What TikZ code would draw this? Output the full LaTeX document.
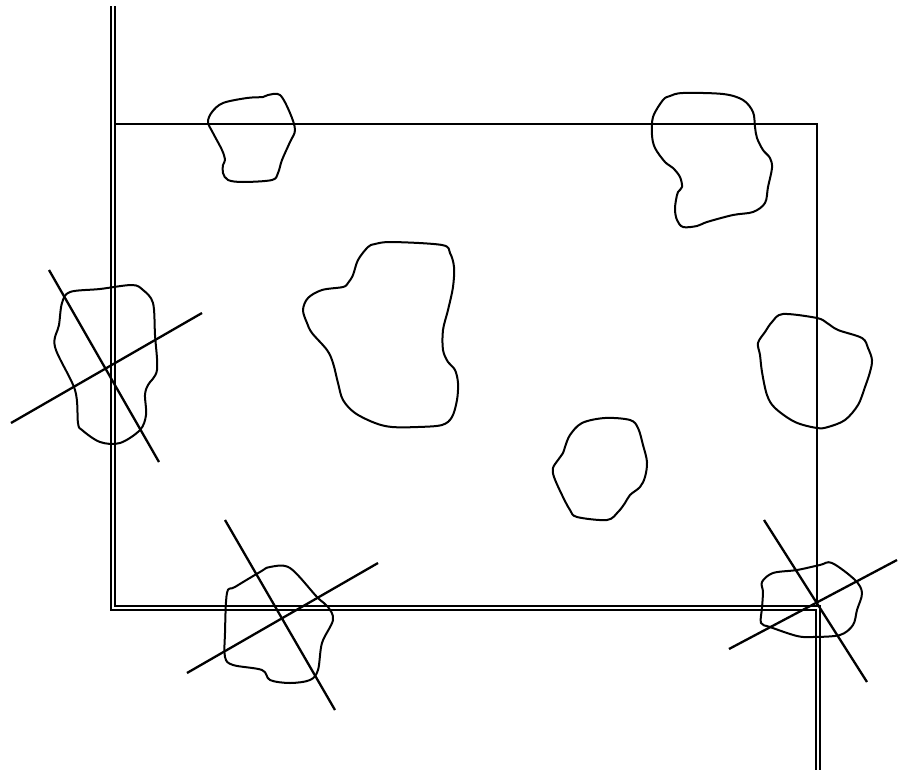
\documentclass[tikz,border=0pt]{standalone}
\begin{document}
\begin{tikzpicture}[x=1pt,y=-1pt,
  blob/.style={draw=black,line width=2pt,line join=round},
  crossline/.style={draw=black,line width=2.3pt},
  wall/.style={draw=black,line width=1.7pt,double=white,double distance=2.2pt},
  edge/.style={draw=black,line width=2.3pt}]
\useasboundingbox (0,0) rectangle (898,771);
% outer frame
\draw[wall] (113,6) -- (113,608) -- (818,608) -- (818,770);
\draw[edge] (114,124) -- (817,124) -- (817,606);
% blob top-left
\draw[blob] plot[smooth cycle,tension=0.55] coordinates {(268,95) (280,95) (290,113) (295,130) (290,142) (282,160) (278,173) (272,180) (243,182) (228,180) (223,173) (223,165) (225,160) (222,150) (213,133) (208,122) (212,112) (223,103) (247,98) (263,97)};
% blob top-right
\draw[blob] plot[smooth cycle,tension=0.55] coordinates {(683,93) (723,94) (743,100) (753,112) (755,127) (757,138) (763,150) (770,158) (772,168) (768,187) (765,203) (753,212) (733,215) (707,222) (697,226) (683,227) (677,220) (675,210) (676,200) (678,192) (682,187) (680,177) (673,168) (665,162) (655,148) (652,135) (653,117) (663,100) (670,96)};
% blob centre
\draw[blob] plot[smooth cycle,tension=0.55] coordinates {(392,242) (442,245) (450,253) (454,267) (453,287) (448,310) (443,330) (443,350) (448,362) (455,370) (458,383) (457,400) (452,417) (442,425) (418,427) (392,427) (375,423) (355,413) (343,400) (338,383) (333,363) (327,350) (312,333) (307,323) (303,310) (308,298) (322,290) (343,287) (348,283) (353,275) (358,260) (368,247) (375,244)};
% blob right
\draw[blob] plot[smooth cycle,tension=0.55] coordinates {(783,314) (817,318) (827,323) (838,330) (862,338) (868,348) (872,360) (870,372) (865,387) (858,405) (845,420) (828,427) (817,428) (795,422) (775,408) (767,395) (762,372) (760,355) (758,343) (765,332) (772,322)};
% blob small
\draw[blob] plot[smooth cycle,tension=0.55] coordinates {(605,418) (630,420) (638,428) (643,445) (647,462) (645,477) (640,487) (630,495) (625,503) (618,512) (607,520) (577,517) (570,510) (562,495) (554,477) (553,468) (558,460) (563,453) (565,447) (570,435) (582,423)};
% blob left (crossed)
\draw[blob] plot[smooth cycle,tension=0.55] coordinates {(132,285) (143,290) (153,303) (155,335) (157,370) (148,385) (145,395) (146,415) (140,430) (120,443) (100,442) (82,430) (78,423) (75,390) (55,347) (59,325) (62,303) (70,292) (100,289)};
\draw[crossline] (49,270) -- (159,462);
\draw[crossline] (11,423) -- (202,313);
% blob bottom (crossed)
\draw[blob] plot[smooth cycle,tension=0.55] coordinates {(270,567) (290,568) (317,597) (328,607) (333,620) (322,643) (318,670) (310,680) (290,683) (270,680) (262,670) (233,665) (225,657) (225,633) (227,593) (235,587) (260,572)};
\draw[crossline] (225,520) -- (335,710);
\draw[crossline] (187,673) -- (378,563);
% blob bottom-right (crossed)
\draw[blob] plot[smooth cycle,tension=0.55] coordinates {(832,563) (855,580) (862,593) (857,610) (853,625) (840,635) (813,637) (797,636) (770,627) (761,623) (762,608) (763,592) (762,582) (773,573) (797,570) (820,565)};
\draw[crossline] (764,520) -- (867,682);
\draw[crossline] (729,649) -- (897,560);
\end{tikzpicture}
\end{document}
